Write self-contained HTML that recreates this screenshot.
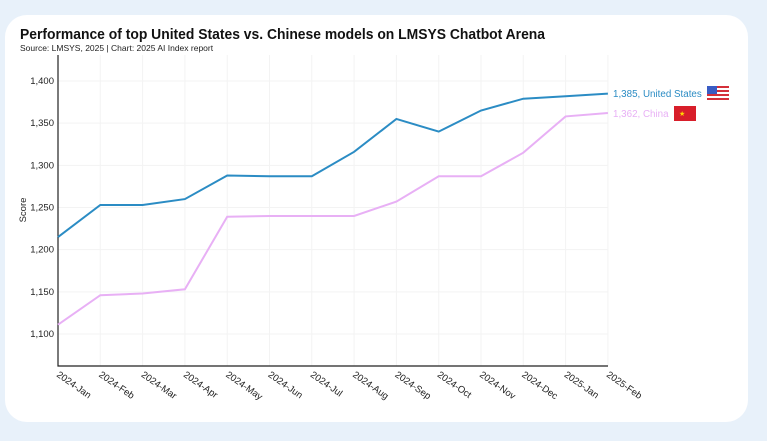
<!DOCTYPE html><html><head><style>body{margin:0;background:#e8f1fa;width:767px;height:436px;overflow:hidden;font-family:"Liberation Sans",sans-serif}</style></head><body>
<svg width="767" height="436" xmlns="http://www.w3.org/2000/svg" font-family="Liberation Sans, sans-serif">
<rect x="5" y="15" width="743" height="407" rx="22" fill="#fff"/>
<text x="20" y="39" font-size="14.5" font-weight="bold" fill="#111" textLength="525" lengthAdjust="spacingAndGlyphs">Performance of top United States vs. Chinese models on LMSYS Chatbot Arena</text>
<text x="20" y="51" font-size="8.5" fill="#222">Source: LMSYS, 2025 | Chart: 2025 AI Index report</text>
<g stroke="#f3f3f3" stroke-width="1" id="g"></g>
<g font-size="9.5" fill="#222" text-anchor="end" id="yt"></g>
<text transform="translate(26,210) rotate(-90)" font-size="9.5" text-anchor="middle" fill="#222">Score</text>
<g font-size="9.5" fill="#222" id="xt"></g>
<path d="M58,55V366H608" fill="none" stroke="#222" stroke-width="1.2"/>
<polyline id="us" fill="none" stroke="#2b8cc4" stroke-width="2"/>
<polyline id="cn" fill="none" stroke="#e8b0f5" stroke-width="2"/>
<text x="613" y="97" font-size="9.8" fill="#2b8cc4">1,385, United States</text>
<text x="613" y="117" font-size="9.8" fill="#e8b0f5">1,362, China</text>
<g transform="translate(707,86)"><rect width="22" height="14" fill="#fff"/><g fill="#d4303a"><rect y="0" width="22" height="2"/><rect y="4" width="22" height="2"/><rect y="8" width="22" height="2"/><rect y="12" width="22" height="2"/></g><rect width="10" height="8" fill="#3a5cc4"/></g>
<g transform="translate(674,106)"><rect width="22" height="15" fill="#d81e2a"/><text x="5" y="10" font-size="7" fill="#ffd700">★</text></g>
</svg>
<script>
const X=i=>58+i*42.3,Y=v=>334-(v-1100)*0.8433;
const us=[1215,1253,1253,1260,1288,1287,1287,1316,1355,1340,1365,1379,1382,1385];
const cn=[1111,1146,1148,1153,1239,1240,1240,1240,1257,1287,1287,1315,1358,1362];
const L=["2024-Jan","2024-Feb","2024-Mar","2024-Apr","2024-May","2024-Jun","2024-Jul","2024-Aug","2024-Sep","2024-Oct","2024-Nov","2024-Dec","2025-Jan","2025-Feb"];
const ns="http://www.w3.org/2000/svg";
document.getElementById('us').setAttribute('points',us.map((v,i)=>X(i)+','+Y(v)).join(' '));
document.getElementById('cn').setAttribute('points',cn.map((v,i)=>X(i)+','+Y(v)).join(' '));
const g=document.getElementById('g'),yt=document.getElementById('yt'),xt=document.getElementById('xt');
for(let v=1100;v<=1400;v+=50){let l=document.createElementNS(ns,'line');l.setAttribute('x1',58);l.setAttribute('x2',608);l.setAttribute('y1',Y(v));l.setAttribute('y2',Y(v));g.appendChild(l);
let t=document.createElementNS(ns,'text');t.setAttribute('x',54);t.setAttribute('y',Y(v)+3);t.textContent=v.toLocaleString('en-US');yt.appendChild(t);}
L.forEach((s,i)=>{let l=document.createElementNS(ns,'line');l.setAttribute('x1',X(i));l.setAttribute('x2',X(i));l.setAttribute('y1',55);l.setAttribute('y2',366);g.appendChild(l);
let t=document.createElementNS(ns,'text');t.setAttribute('transform',`translate(${X(i)-2},${376}) rotate(35)`);t.textContent=s;xt.appendChild(t);});
</script>
</body></html>
